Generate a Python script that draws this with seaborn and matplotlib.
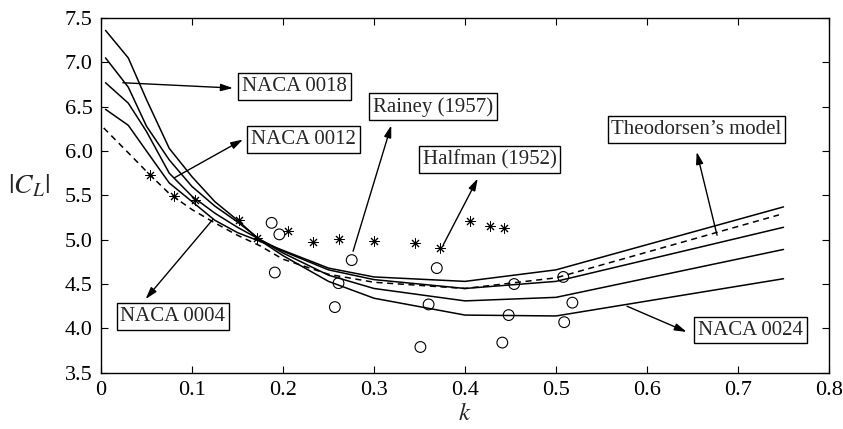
import numpy as np
import pandas as pd
import seaborn as sns
import matplotlib.pyplot as plt

# reduced frequency grid for the computed curves
k_grid = [0.005, 0.03, 0.05, 0.075, 0.1, 0.125, 0.15, 0.175, 0.2, 0.25, 0.3, 0.4, 0.5, 0.75]
naca0004 = [6.47, 6.29, 6.00, 5.64, 5.43, 5.22, 5.08, 4.98, 4.88, 4.68, 4.58, 4.53, 4.66, 5.37]
naca0012 = [6.77, 6.54, 6.22, 5.75, 5.49, 5.30, 5.14, 5.00, 4.87, 4.66, 4.55, 4.45, 4.53, 5.14]
naca0018 = [7.05, 6.72, 6.28, 5.90, 5.60, 5.38, 5.20, 5.00, 4.85, 4.60, 4.45, 4.31, 4.35, 4.89]
naca0024 = [7.36, 7.05, 6.58, 6.03, 5.71, 5.43, 5.22, 4.99, 4.82, 4.53, 4.34, 4.15, 4.14, 4.56]

k_theo = [0.003, 0.03, 0.05, 0.075, 0.1, 0.125, 0.15, 0.175, 0.2, 0.25, 0.3, 0.4, 0.5, 0.745]
theodorsen = [6.26, 5.98, 5.77, 5.52, 5.34, 5.19, 5.05, 4.93, 4.78, 4.61, 4.52, 4.45, 4.57, 5.28]

# Rainey (1957) experiments
k_rainey = [0.1875, 0.196, 0.191, 0.2755, 0.261, 0.257, 0.369, 0.360, 0.351,
            0.454, 0.448, 0.441, 0.508, 0.509, 0.518]
cl_rainey = [5.19, 5.06, 4.63, 4.77, 4.51, 4.24, 4.68, 4.27, 3.79,
             4.50, 4.15, 3.84, 4.58, 4.07, 4.29]

# Halfman (1952) experiments
k_halfman = [0.054, 0.080, 0.103, 0.152, 0.171, 0.205, 0.233, 0.262, 0.300,
             0.345, 0.373, 0.405, 0.427, 0.443]
cl_halfman = [5.73, 5.49, 5.45, 5.22, 5.02, 5.10, 4.97, 5.01, 4.98,
              4.96, 4.91, 5.21, 5.15, 5.13]

curves = pd.DataFrame({
    "k": k_grid * 4,
    "cl": naca0004 + naca0012 + naca0018 + naca0024,
    "airfoil": ["NACA 0004"] * len(k_grid) + ["NACA 0012"] * len(k_grid)
               + ["NACA 0018"] * len(k_grid) + ["NACA 0024"] * len(k_grid),
})
theo_df = pd.DataFrame({"k": k_theo, "cl": theodorsen})
rainey_df = pd.DataFrame({"k": k_rainey, "cl": cl_rainey})
halfman_df = pd.DataFrame({"k": k_halfman, "cl": cl_halfman})

sns.set_theme(style="ticks")
plt.rcParams["font.family"] = ["Liberation Serif", "DejaVu Serif"]
plt.rcParams["mathtext.fontset"] = "stix"

fig = plt.figure(figsize=(8.43, 4.29), dpi=100)
ax = fig.add_axes([0.1198, 0.1312, 0.8636, 0.8268])

sns.lineplot(data=curves, x="k", y="cl", units="airfoil", estimator=None,
             color="black", lw=1.1, ax=ax, legend=False)
sns.lineplot(data=theo_df, x="k", y="cl", color="black", lw=1.1,
             dashes=False, ax=ax, legend=False)
ax.lines[-1].set_dashes((4, 3))
sns.scatterplot(data=rainey_df, x="k", y="cl", marker="o", s=60,
                facecolor="none", edgecolor="black", linewidth=0.8, ax=ax)
sns.scatterplot(data=halfman_df, x="k", y="cl", marker=(8, 2, 0), s=45,
                color="black", linewidth=0.7, ax=ax)

ax.set_xlim(0, 0.8)
ax.set_ylim(3.5, 7.5)
ax.set_xticks(np.arange(0, 0.81, 0.1))
ax.set_xticklabels(["0"] + ["%.1f" % v for v in np.arange(0.1, 0.81, 0.1)])
ax.set_yticks(np.arange(3.5, 7.51, 0.5))
ax.set_yticklabels(["%.1f" % v for v in np.arange(3.5, 7.51, 0.5)])
ax.tick_params(direction="in", length=5, width=0.8, top=True, right=True,
               labelsize=16, colors="black", pad=6)
for s in ax.spines.values():
    s.set_visible(True)
    s.set_linewidth(1.0)
    s.set_color("black")

ax.set_xlabel("$k$", fontsize=18, labelpad=2)
ax.set_ylabel("$|C_L|$", fontsize=20, rotation=0)
ax.yaxis.set_label_coords(-0.099, 0.49)

box = dict(boxstyle="square,pad=0.18", fc="white", ec="black", lw=1.0)
arrow = dict(arrowstyle="-|>,head_length=0.6,head_width=0.18", color="black",
             lw=1.0, shrinkA=0, shrinkB=0)

labels = [
    ("NACA 0018", (0.2126, 6.73), (0.024, 6.77), (0.145, 6.71)),
    ("NACA 0012", (0.2227, 6.13), (0.081, 5.70), (0.156, 6.13)),
    ("Rainey (1957)", (0.365, 6.50), (0.277, 4.87), (0.319, 6.29)),
    ("Halfman (1952)", (0.427, 5.90), (0.376, 4.94), (0.414, 5.69)),
    ("Theodorsen\u2019s model", (0.6544, 6.24), (0.677, 5.05), (0.6546, 5.99)),
    ("NACA 0024", (0.714, 3.98), (0.578, 4.25), (0.6436, 3.96)),
    ("NACA 0004", (0.0791, 4.135), (0.123, 5.23), (0.049, 4.33)),
]
for text, pos, start, tip in labels:
    ax.text(pos[0], pos[1], text, fontsize=15, ha="center", va="center", bbox=box)
    ax.annotate("", xy=tip, xytext=start, arrowprops=arrow)

fig.savefig("out.png", dpi=100)
